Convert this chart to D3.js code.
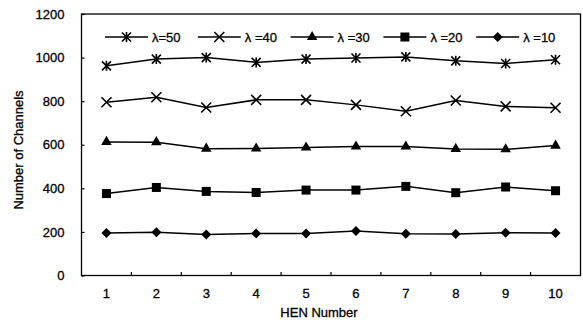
<!DOCTYPE html>
<html><head><meta charset="utf-8">
<script src="https://cdn.jsdelivr.net/npm/d3@7"></script>
<style>body{margin:0;background:#fff}svg{display:block}text{font-family:"Liberation Sans",Arial,sans-serif;fill:#000;stroke:#000;stroke-width:0.3px}</style>
</head><body>
<svg id="c" width="583" height="324"></svg>
<script>
const categories = [1,2,3,4,5,6,7,8,9,10];
const yTicks = [0,200,400,600,800,1000,1200];
const seriesNames = ["\u03bb=50","\u03bb =40","\u03bb =30","\u03bb =20","\u03bb =10"];
const lambda50 = [962, 993, 1000, 978, 993, 998, 1003, 985, 973, 990];
const lambda40 = [795, 818, 771, 806, 806, 783, 754, 803, 776, 770];
const lambda30 = [613, 612, 582, 583, 587, 592, 592, 581, 579, 596];
const lambda20 = [376, 404, 386, 381, 392, 392, 409, 380, 406, 389];
const lambda10 = [195, 199, 188, 193, 193, 204, 192, 191, 196, 195];
const markers = ["star","x","triangle","square","diamond"];

const svg = d3.select("#c");
const L=81.5, R=580.5, T=14, B=275.5;
const x = d3.scaleBand().domain(categories).range([L,R]);
const y = d3.scaleLinear().domain([0,1200]).range([B,T]);
const data = [lambda50,lambda40,lambda30,lambda20,lambda10];

// frame
svg.append("rect").attr("x",L).attr("y",T).attr("width",R-L).attr("height",B-T)
  .attr("fill","none").attr("stroke","#000").attr("stroke-width",1.3);

// y axis
const ya = svg.append("g").attr("transform",`translate(${L},0)`)
  .call(d3.axisLeft(y).tickValues(yTicks).tickSize(-3).tickPadding(17).tickFormat(d3.format("d")));
ya.select(".domain").remove();
ya.selectAll("line").attr("stroke","#000").attr("stroke-width",1.2);
ya.selectAll("text").attr("font-size",13).style("font-family","Liberation Sans, Arial, sans-serif");

// x axis labels
const xa = svg.append("g").attr("transform",`translate(0,${B})`)
  .call(d3.axisBottom(x).tickSize(0).tickPadding(13));
xa.select(".domain").remove();
xa.selectAll("text").attr("font-size",13).style("font-family","Liberation Sans, Arial, sans-serif");
// inner tick marks at band boundaries
svg.append("g").selectAll("line").data(categories.slice(1)).join("line")
  .attr("x1",d=>x(d)).attr("x2",d=>x(d)).attr("y1",B).attr("y2",B-3.5)
  .attr("stroke","#000").attr("stroke-width",1.2);

// titles
svg.append("text").attr("x",319).attr("y",317).attr("text-anchor","middle")
  .attr("font-size",13).text("HEN Number");
svg.append("text").attr("transform","translate(23,150) rotate(-90)").attr("text-anchor","middle")
  .attr("font-size",13).text("Number of Channels");

function drawMarker(g, type, cx, cy){
  const s = g.append("g").attr("transform",`translate(${cx},${cy})`);
  if(type==="star"){
    const r=4.5;
    s.append("path").attr("d",`M${-r},${-r}L${r},${r}M${-r},${r}L${r},${-r}M0,${-r-0.5}L0,${r+0.5}`)
      .attr("stroke","#000").attr("stroke-width",1.6).attr("fill","none");
  } else if(type==="x"){
    const r=5;
    s.append("path").attr("d",`M${-r},${-r}L${r},${r}M${-r},${r}L${r},${-r}`)
      .attr("stroke","#000").attr("stroke-width",1.6).attr("fill","none");
  } else if(type==="triangle"){
    s.append("path").attr("d",d3.symbol(d3.symbolTriangle,48)()).attr("fill","#000");
  } else if(type==="square"){
    s.append("rect").attr("x",-4.5).attr("y",-4.5).attr("width",9).attr("height",9).attr("fill","#000");
  } else if(type==="diamond"){
    s.append("path").attr("d","M0,-5L5,0L0,5L-5,0Z").attr("fill","#000");
  }
}

const line = d3.line().x((d,i)=>x(categories[i])+x.bandwidth()/2).y(d=>y(d));
data.forEach((vals,k)=>{
  const g = svg.append("g");
  g.append("path").datum(vals).attr("d",line).attr("fill","none").attr("stroke","#000").attr("stroke-width",1.5);
  vals.forEach((v,i)=>drawMarker(g, markers[k], x(categories[i])+x.bandwidth()/2, y(v)));
});

// legend
const ly = 37;
seriesNames.forEach((name,k)=>{
  const x0 = 105 + k*92.8;
  const g = svg.append("g");
  g.append("line").attr("x1",x0).attr("x2",x0+43).attr("y1",ly).attr("y2",ly)
    .attr("stroke","#000").attr("stroke-width",1.5);
  drawMarker(g, markers[k], x0+21.5, ly);
  g.append("text").attr("x",x0+47).attr("y",ly+4.5).attr("font-size",13).text(name);
});
</script>
</body></html>
